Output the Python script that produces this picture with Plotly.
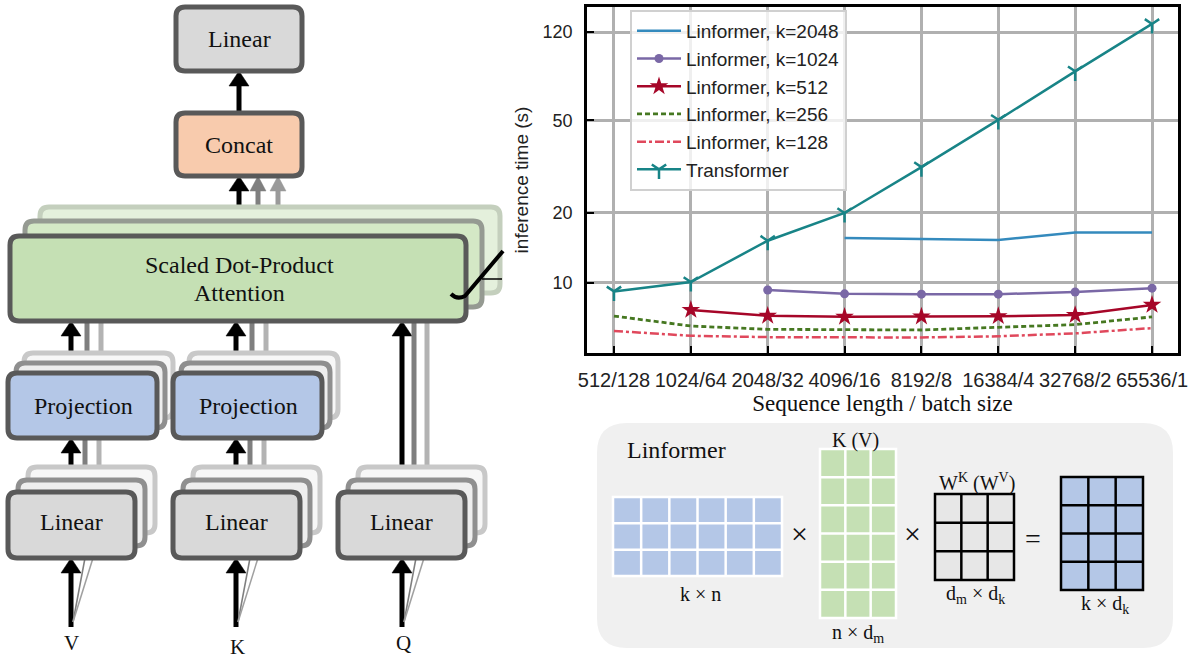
import math
import plotly.graph_objects as go

W, H = 1199, 658

# ---------------- chart data ----------------
categories = ["512/128", "1024/64", "2048/32", "4096/16", "8192/8", "16384/4", "32768/2", "65536/1"]
k2048 = [None, None, None, 15.6, 15.4, 15.3, 16.5, 16.5]
k1024 = [None, None, 9.33, 8.98, 8.95, 8.95, 9.15, 9.5]
k512 = [None, 7.66, 7.23, 7.16, 7.18, 7.2, 7.28, 8.05]
k256 = [7.21, 6.53, 6.32, 6.28, 6.28, 6.45, 6.62, 7.15]
k128 = [6.22, 5.93, 5.85, 5.82, 5.83, 5.9, 6.07, 6.4]
transformer = [9.2, 10.1, 15.2, 20.0, 31.5, 50.3, 81.3, 130.0]
y_ticks = [10, 20, 50, 120]

SANS = "Liberation Sans"
SERIF = "Liberation Serif"

fig = go.Figure()
fig.add_trace(go.Scatter(x=categories, y=k2048, name="Linformer, k=2048", mode="lines",
                         line=dict(color="#348ABD", width=2.5)))
fig.add_trace(go.Scatter(x=categories, y=k1024, name="Linformer, k=1024", mode="lines+markers",
                         line=dict(color="#7A68A6", width=2.5),
                         marker=dict(symbol="circle", size=9, color="#7A68A6")))
fig.add_trace(go.Scatter(x=categories, y=k512, name="Linformer, k=512", mode="lines+markers",
                         line=dict(color="#A60628", width=2.5),
                         marker=dict(symbol="star", size=14, color="#A60628")))
fig.add_trace(go.Scatter(x=categories, y=k256, name="Linformer, k=256", mode="lines",
                         line=dict(color="#467821", width=2.8, dash="5px,3px")))
fig.add_trace(go.Scatter(x=categories, y=k128, name="Linformer, k=128", mode="lines",
                         line=dict(color="#E0485C", width=2.5, dash="9px,3px,3px,3px")))
fig.add_trace(go.Scatter(x=categories, y=transformer, name="Transformer", mode="lines+markers",
                         line=dict(color="#188487", width=2.5),
                         marker=dict(symbol="y-down", size=12, color="#188487",
                                     line=dict(color="#188487", width=2.5))))

# ---------------- diagram helpers (pixel -> paper) ----------------
def px(x):
    return x / W


def py(y):
    return 1 - y / H


def pt(x, y):
    return f"{px(x):.5f},{py(y):.5f}"


def rr_path(x0, y0, x1, y1, r):
    return (f"M {pt(x0 + r, y0)} L {pt(x1 - r, y0)} Q {pt(x1, y0)} {pt(x1, y0 + r)} "
            f"L {pt(x1, y1 - r)} Q {pt(x1, y1)} {pt(x1 - r, y1)} "
            f"L {pt(x0 + r, y1)} Q {pt(x0, y1)} {pt(x0, y1 - r)} "
            f"L {pt(x0, y0 + r)} Q {pt(x0, y0)} {pt(x0 + r, y0)} Z")


shapes = []
annotations = []


def rbox(x0, y0, x1, y1, fill, border, bw=5, r=9):
    shapes.append(dict(type="path", xref="paper", yref="paper", path=rr_path(x0, y0, x1, y1, r),
                       fillcolor=fill, line=dict(color=border, width=bw)))


def line(x0, y0, x1, y1, color, width):
    shapes.append(dict(type="line", xref="paper", yref="paper", x0=px(x0), y0=py(y0),
                       x1=px(x1), y1=py(y1), line=dict(color=color, width=width)))


def arrow_up(x, y_from, y_tip, color="black", width=5, hw=10, hh=15):
    line(x, y_from, x, y_tip + hh - 2, color, width)
    shapes.append(dict(type="path", xref="paper", yref="paper",
                       path=f"M {pt(x, y_tip)} L {pt(x + hw, y_tip + hh)} L {pt(x - hw, y_tip + hh)} Z",
                       fillcolor=color, line=dict(color=color, width=0.5)))


def text(x, y, s, size=24, family=SERIF, color="#111111"):
    annotations.append(dict(x=px(x), y=py(y), xref="paper", yref="paper", text=s, showarrow=False,
                            xanchor="center", yanchor="middle",
                            font=dict(family=family, size=size, color=color)))


def grid_matrix(x0, y0, x1, y1, ncol, nrow, fill, lcolor, lw):
    shapes.append(dict(type="rect", xref="paper", yref="paper", x0=px(x0), y0=py(y0), x1=px(x1),
                       y1=py(y1), fillcolor=fill, line=dict(color=lcolor, width=lw)))
    for i in range(1, ncol):
        xx = x0 + (x1 - x0) * i / ncol
        line(xx, y0, xx, y1, lcolor, lw)
    for j in range(1, nrow):
        yy = y0 + (y1 - y0) * j / nrow
        line(x0, yy, x1, yy, lcolor, lw)


DARK = "#595959"
GRAY1 = "#7F7F7F"
GRAY2 = "#B3B3B3"

# ---- arrows (drawn first, boxes cover them) ----
arrow_up(239, 113, 71)
arrow_up(239, 236, 176)
arrow_up(258, 221, 176, color=GRAY1, width=5, hw=8, hh=15)
arrow_up(278, 207, 176, color="#9A9A9A", width=5, hw=8, hh=15)
for xc in (71, 236):
    arrow_up(xc, 627, 558)
    line(xc + 2, 622, xc + 14, 558, "#7F7F7F", 1.5)
    line(xc + 2, 622, xc + 22, 558, "#A0A0A0", 1.5)
    arrow_up(xc, 492, 438)
    line(xc + 14, 482, xc + 14, 440, GRAY1, 5)
    line(xc + 28, 472, xc + 28, 440, GRAY2, 5)
    arrow_up(xc, 373, 321)
    line(xc + 16, 363, xc + 16, 323, GRAY1, 5)
    line(xc + 30, 353, xc + 30, 323, GRAY2, 5)
arrow_up(402, 627, 558)
line(404, 622, 416, 558, "#7F7F7F", 1.5)
line(404, 622, 424, 558, "#A0A0A0", 1.5)
arrow_up(402, 492, 321)
line(414, 482, 414, 323, GRAY1, 5)
line(427, 472, 427, 323, GRAY2, 5)

# ---- boxes ----
rbox(176, 7, 302, 71, "#D9D9D9", DARK)
text(239, 39, "Linear", 24)
rbox(176, 113, 302, 176, "#F8CBAD", DARK)
text(239, 145, "Concat", 24)

rbox(40, 207, 500, 293, "#E4F0DC", "#C4CFBD")
rbox(25, 221, 482, 307, "#D4E8C6", "#959A92")
rbox(10, 236, 466, 321, "#C5E0B4", DARK)
text(239, 265, "Scaled Dot-Product", 24)
text(239, 293, "Attention", 24)
shapes.append(dict(type="path", xref="paper", yref="paper",
                   path=f"M {pt(451, 294)} Q {pt(457, 300)} {pt(465, 296)} L {pt(503, 251)}",
                   line=dict(color="black", width=4)))
line(482, 279, 502, 279, "black", 1.5)

for x0 in (8, 173):
    rbox(x0 + 16, 353, x0 + 165, 418, "#F7F7F7", "#C8C8C8")
    rbox(x0 + 8, 363, x0 + 157, 428, "#EEEEEE", "#8F8F8F")
    rbox(x0, 373, x0 + 149, 438, "#B4C7E7", DARK)
    text(x0 + 75, 406, "Projection", 24)

for x0 in (8, 173, 338):
    rbox(x0 + 20, 467, x0 + 147, 533, "#F7F7F7", "#C8C8C8")
    rbox(x0 + 10, 480, x0 + 137, 546, "#EEEEEE", "#8F8F8F")
    rbox(x0, 492, x0 + 127, 558, "#D9D9D9", DARK)
    text(x0 + 63, 522, "Linear", 24)

text(71, 643, "V", 21)
text(237, 647, "K", 21)
text(403, 643, "Q", 21)

# ---- Linformer projection panel ----
shapes.append(dict(type="path", xref="paper", yref="paper", path=rr_path(597, 423, 1173, 648, 30),
                   fillcolor="#F0F0F0", line=dict(width=0)))
text(676, 450, "Linformer", 24)
grid_matrix(613, 497, 782, 576, 6, 3, "#B4C7E7", "white", 2.5)
text(700, 594, "k × n", 20)
text(800, 533, "×", 30)
grid_matrix(820, 449, 896, 618, 3, 6, "#C5E0B4", "white", 2.5)
text(855, 440, "K (V)", 20)
text(858, 633, "n × d<sub>m</sub>", 20)
text(912, 533, "×", 30)
grid_matrix(935, 494, 1014, 580, 3, 3, "#E7E7E7", "black", 2.5)
text(977, 482, "W<sup>K</sup> (W<sup>V</sup>)", 20)
text(975, 594, "d<sub>m</sub> × d<sub>k</sub>", 20)
text(1033, 538, "=", 28)
grid_matrix(1061, 477, 1143, 590, 3, 4, "#B4C7E7", "black", 2.5)
text(1105, 604, "k × d<sub>k</sub>", 20)

axis_common = dict(showline=True, linecolor="black", linewidth=2.5, mirror=True,
                   showgrid=True, gridcolor="#B0B0B0", gridwidth=2.5,
                   ticks="inside", ticklen=7, tickwidth=2, tickcolor="black", zeroline=False)

fig.update_layout(
    width=W, height=H,
    margin=dict(l=0, r=0, t=0, b=0, pad=0, autoexpand=False),
    paper_bgcolor="white", plot_bgcolor="white",
    xaxis=dict(domain=[587 / W, 1178 / W], type="category", categoryorder="array",
               categoryarray=categories, range=[-0.351, 7.338], ticklabelstandoff=7,
               tickfont=dict(family=SANS, size=20, color="#222222"),
               title=dict(text="Sequence length / batch size", standoff=3,
                          font=dict(family=SERIF, size=23, color="#111111")),
               **axis_common),
    yaxis=dict(domain=[1 - 353 / H, 1 - 7 / H], type="log",
               range=[math.log10(5.0), math.log10(153.7)],
               tickvals=y_ticks, ticktext=[str(v) for v in y_ticks], ticklabelstandoff=8,
               tickfont=dict(family=SANS, size=18, color="#222222"),
               title=dict(text="inference time (s)", standoff=9,
                          font=dict(family=SANS, size=19, color="#222222")),
               **axis_common),
    legend=dict(x=630 / W, y=1 - 10 / H, xanchor="left", yanchor="top", itemwidth=44,
                bgcolor="rgba(255,255,255,0.8)", bordercolor="#D0D0D0", borderwidth=2,
                font=dict(family=SANS, size=19, color="#222222")),
    shapes=shapes,
    annotations=annotations,
)

fig.write_html("out.html", config={"displayModeBar": False},
               post_script="document.body.style.margin='0';document.body.style.overflow='hidden';")
